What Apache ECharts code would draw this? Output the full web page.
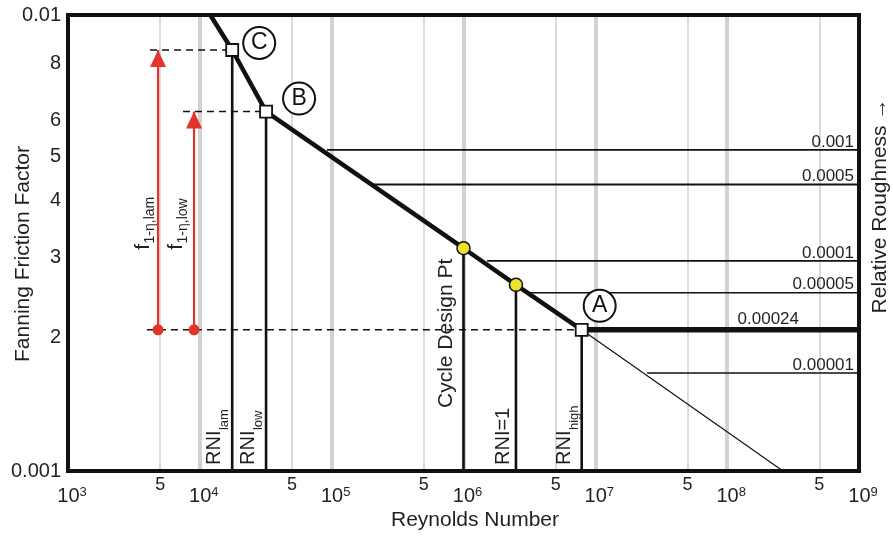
<!DOCTYPE html>
<html>
<head>
<meta charset="utf-8">
<title>Fanning friction factor vs Reynolds number</title>
<script src="https://cdn.jsdelivr.net/npm/echarts@6/dist/echarts.min.js"></script>
<style>
  html, body { margin: 0; padding: 0; background: #fff; }
  #chart { width: 893px; height: 538px; }
</style>
</head>
<body>
<div id="chart"></div>
<script>
// ---------- data ----------
const xDecadeTicks = [1e4, 1e5, 1e6, 1e7, 1e8];            // heavy vertical gridlines
const xFiveTicks = [5e3, 5e4, 5e5, 5e6, 5e7, 5e8];          // light vertical gridlines, labelled "5"
const yGridValues = [0.002, 0.003, 0.004, 0.005, 0.006, 0.007, 0.008, 0.009];
const yTickValues = [0.002, 0.003, 0.004, 0.005, 0.006, 0.008];
const yTickLabels = ['2', '3', '4', '5', '6', '8'];

// design curve, [Re, f]
const curveTop = [1.2e4, 0.01];
const pointC = [1.76e4, 0.00838];
const pointB = [3.18e4, 0.00614];
const designPoint = [1.0e6, 0.00308];
const rniOnePoint = [2.5e6, 0.00256];
const pointA = [7.88e6, 0.00204];
const smoothTailEnd = [2.65e8, 0.001];

// relative-roughness plateaus
const roughnessLabels = ['0.001', '0.0005', '0.0001', '0.00005', '0.00024', '0.00001'];
const roughnessF = [0.00506, 0.00425, 0.00289, 0.00246, 0.00204, 0.00164];
const roughnessStartRe = [9.2e4, 2.06e5, 1.51e6, 3.2e6, 7.88e6, 2.47e7];

// f(1-eta) arrows
const arrowSubscripts = ['1-η,lam', '1-η,low'];
const arrowRe = [4.82e3, 9.04e3];
const arrowTopF = [0.00838, 0.00614];
const arrowBaseF = 0.00204;

// dashed leaders running left from C, B and A
const dashStartRe = [4.19e3, 7.45e3, 3.97e3];

// ---------- styling ----------
const INK = '#111';
const TXT = '#231f20';
const RED = '#e2342b';
const GRID = '#d2d2d2';
const FAMILY = '"Liberation Sans", Arial, Helvetica, sans-serif';
const font = size => size + 'px ' + FAMILY;
const roughnessWidths = [1.6, 2, 1.8, 1.5, 5.5, 1.5];

function seg(points, width, extra) {
  return Object.assign({
    type: 'line', data: points, symbol: 'none', silent: true, z: 3,
    lineStyle: { color: INK, width: width }
  }, extra || {});
}

const series = [];

// gridlines
series.push({
  type: 'line', data: [], silent: true, z: 1,
  markLine: {
    silent: true, symbol: 'none', z: 1, animation: false,
    label: { show: false },
    data: []
      .concat(xFiveTicks.map(v => ({ xAxis: v, lineStyle: { color: GRID, width: 1.6, type: 'solid' } })))
      .concat(xDecadeTicks.map(v => ({ xAxis: v, lineStyle: { color: GRID, width: 4, type: 'solid' } })))
      .concat(yGridValues.map(v => ({ yAxis: v, lineStyle: { color: GRID, width: 1.8, type: 'solid' } })))
  }
});

// roughness plateaus
roughnessF.forEach((f, i) => {
  series.push(seg([[roughnessStartRe[i], f], [1e9, f]], roughnessWidths[i]));
});

// vertical drops to the axis
[pointC, pointB, designPoint, rniOnePoint, pointA].forEach(p => {
  series.push(seg([[p[0], p[1]], [p[0], 0.001]], 2.6));
});

// dashed leaders
[pointC, pointB, pointA].forEach((p, i) => {
  series.push(seg([[dashStartRe[i], p[1]], [p[0], p[1]]], 1.5,
    { lineStyle: { color: INK, width: 1.5, type: [7, 5] } }));
});

// smooth-pipe continuation beyond A
series.push(seg([pointA, smoothTailEnd], 1.2));

// main friction curve
series.push(seg([curveTop, pointC, pointB, designPoint, rniOnePoint, pointA], 4.5, { z: 4 }));

// red arrows
arrowRe.forEach((re, i) => {
  series.push({
    type: 'line', silent: true, z: 5, showAllSymbol: true,
    lineStyle: { color: RED, width: 2.2 },
    itemStyle: { color: RED, borderWidth: 0, opacity: 1 },
    data: [
      { value: [re, arrowBaseF], symbol: 'circle', symbolSize: 11 },
      { value: [re, arrowTopF[i]], symbol: 'triangle', symbolSize: [16, 17], symbolOffset: [0, '50%'] }
    ]
  });
});

// square markers at C, B, A
series.push({
  type: 'scatter', silent: true, z: 6, symbol: 'rect', symbolSize: 12,
  itemStyle: { color: '#fff', borderColor: INK, borderWidth: 1.8, opacity: 1 },
  data: [pointC, pointB, pointA]
});

// yellow markers
series.push({
  type: 'scatter', silent: true, z: 6, symbol: 'circle', symbolSize: 13,
  itemStyle: { color: '#ebe22a', borderColor: INK, borderWidth: 1.5, opacity: 1 },
  data: [designPoint, rniOnePoint]
});

// letter callouts next to C, B, A
const callouts = [
  { p: pointC, t: 'C', off: [27, -7] },
  { p: pointB, t: 'B', off: [33, -13] },
  { p: pointA, t: 'A', off: [18, -24] }
];
series.push({
  type: 'scatter', silent: true, z: 7, symbol: 'circle', symbolSize: 32,
  itemStyle: { color: '#fff', borderColor: INK, borderWidth: 2, opacity: 1 },
  label: {
    show: true, position: 'inside', color: INK, fontSize: 23, fontFamily: FAMILY,
    formatter: d => d.data.name
  },
  data: callouts.map(c => ({ value: c.p, name: c.t, symbolOffset: c.off }))
});

const option = {
  animation: false,
  backgroundColor: '#fff',
  grid: {
    left: 68, right: 34, top: 15, bottom: 67, show: true,
    borderColor: INK, borderWidth: 4, backgroundColor: 'rgba(0,0,0,0)', z: 10
  },
  xAxis: {
    type: 'log', logBase: 10, min: 1e3, max: 1e9,
    axisLine: { show: false }, axisTick: { show: false }, splitLine: { show: false },
    axisLabel: {
      showMinLabel: true, showMaxLabel: true, margin: 15,
      formatter: v => '{p|}{b|10}{s|' + Math.round(Math.log10(v)) + '}',
      rich: {
        p: { width: 8 },
        b: { fontSize: 20, lineHeight: 20, fontFamily: FAMILY, color: TXT },
        s: { fontSize: 13, verticalAlign: 'top', fontFamily: FAMILY, color: TXT }
      }
    }
  },
  yAxis: {
    type: 'log', logBase: 10, min: 0.001, max: 0.01,
    axisLine: { show: false }, axisTick: { show: false }, splitLine: { show: false },
    axisLabel: {
      showMinLabel: true, showMaxLabel: true, margin: 7,
      fontSize: 20, fontFamily: FAMILY, color: TXT,
      formatter: v => (v > 0.005 ? '0.01' : '0.001')
    }
  },
  series: series
};

const chart = echarts.init(document.getElementById('chart'));
chart.setOption(option);

// ---------- text annotations placed through the axes ----------
const toPx = p => chart.convertToPixel({ gridIndex: 0 }, p);
const leftPx = toPx([1e3, 0.001])[0];
const rightPx = toPx([1e9, 0.001])[0];
const bottomPx = toPx([1e3, 0.001])[1];

const measureCtx = document.createElement('canvas').getContext('2d');
function textWidth(str, size) {
  measureCtx.font = font(size);
  return measureCtx.measureText(str).width;
}

function text(x, y, str, size, align, vAlign, extra) {
  return Object.assign({
    type: 'text', x: x, y: y, silent: true, z: 20,
    style: {
      text: str, font: font(size), fontSize: size, fontFamily: FAMILY, fill: TXT,
      align: align, verticalAlign: vAlign, textAlign: align, textVerticalAlign: vAlign
    }
  }, extra || {});
}

const UP = { rotation: Math.PI / 2 };

// upward-reading label with a subscript: centre lines given as screen x,
// text starts at screen y0 and runs upward
function vSubText(mainStr, subStr, mainX, subX, y0, mainSize, subSize) {
  const w = textWidth(mainStr, mainSize);
  return [
    text(mainX, y0, mainStr, mainSize, 'left', 'middle', UP),
    text(subX, y0 - w - 0.5, subStr, subSize, 'left', 'middle', UP)
  ];
}

const graphics = [];

// "5" labels between decades
xFiveTicks.forEach(v => {
  graphics.push(text(toPx([v, 0.001])[0], bottomPx + 14, '5', 18, 'center', 'middle'));
});

// friction-factor mantissa labels
yTickValues.forEach((v, i) => {
  graphics.push(text(leftPx - 7, toPx([1e3, v])[1] + 4, yTickLabels[i], 20, 'right', 'middle'));
});

// axis titles
graphics.push(text(475, 520, 'Reynolds Number', 21, 'center', 'middle'));
graphics.push(text(23, 254, 'Fanning Friction Factor', 21, 'center', 'middle', UP));
graphics.push(text(880, 206, 'Relative Roughness →', 21, 'center', 'middle', UP));

// roughness values at the right end of each plateau
roughnessLabels.forEach((lab, i) => {
  const y = toPx([1e9, roughnessF[i]])[1];
  if (lab === '0.00024') {
    graphics.push(text(rightPx - 60, y - 1.5, lab, 17, 'right', 'bottom'));
  } else {
    graphics.push(text(rightPx - 5, y + 0.5, lab, 17, 'right', 'bottom'));
  }
});

// labels along the vertical drops
const riseY = bottomPx - 6;
[[pointC, 'lam'], [pointB, 'low'], [pointA, 'high']].forEach(([p, sub]) => {
  const x = toPx(p)[0];
  vSubText('RNI', sub, x - 17.5, x - 7.5, riseY, 20, 13).forEach(g => graphics.push(g));
});
graphics.push(text(toPx(designPoint)[0] - 6.5, bottomPx - 63, 'Cycle Design Pt', 21, 'left', 'bottom', UP));
graphics.push(text(toPx(rniOnePoint)[0] - 2, riseY, 'RNI=1', 20, 'left', 'bottom', UP));

// f labels beside the red arrows
arrowRe.forEach((re, i) => {
  const p = toPx([re, arrowBaseF]);
  const shift = i === 0 ? 0 : 3;
  vSubText('f', arrowSubscripts[i], p[0] - 15.3 - shift, p[0] - 8 - shift, p[1] - 80, 21, 14)
    .forEach(g => graphics.push(g));
});

chart.setOption({ graphic: graphics });
</script>
</body>
</html>
